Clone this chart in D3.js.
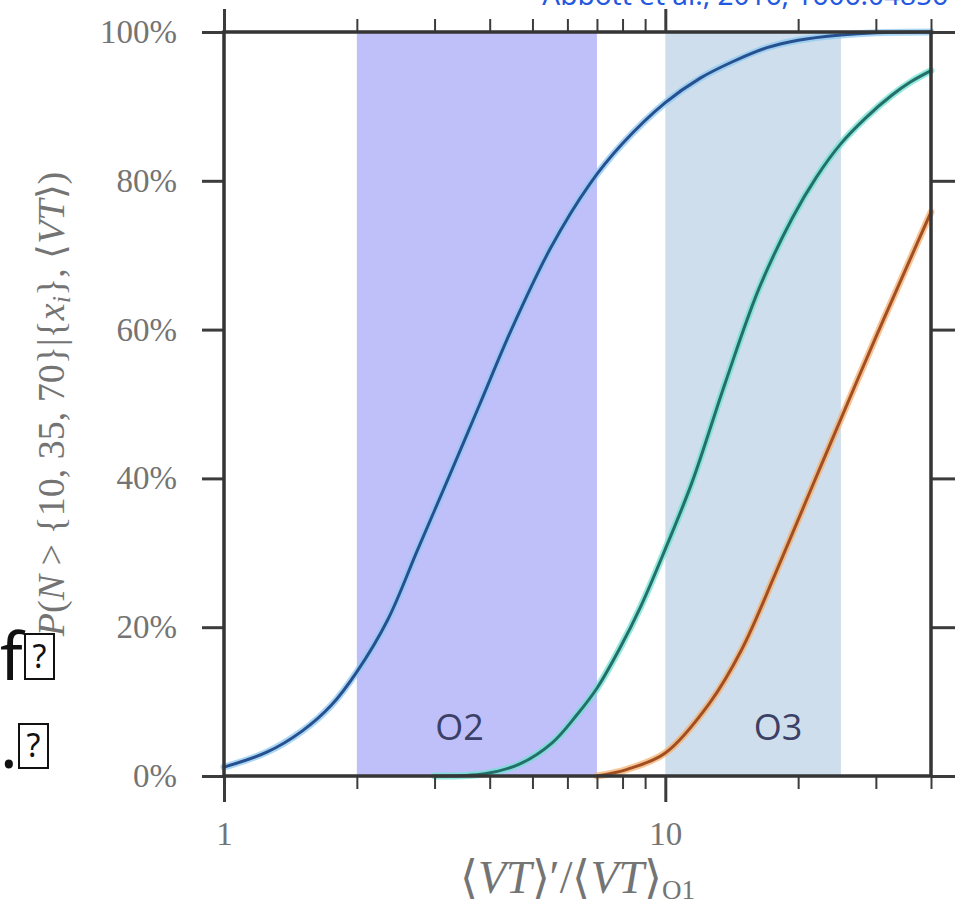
<!DOCTYPE html>
<html>
<head>
<meta charset="utf-8">
<script src="https://cdn.jsdelivr.net/npm/d3@7"></script>
<style>
  body { margin: 0; background: #fff; }
  svg { display: block; }
</style>
</head>
<body>
<svg id="chart" width="961" height="910"></svg>
<script>
// Observing runs (sensitive time-volume ratio ranges)
const runNames = ["O2", "O3"];
const runLo = [2, 10];
const runHi = [7, 25];
const runLabelX = [3.42, 18];

// P(N > 10 | data) against <VT>'/<VT>_O1
const n10X = [1, 1.25, 1.5, 1.75, 2, 2.35, 2.75, 3.25, 3.8, 4.48, 5.5, 6.73, 8, 10, 12, 14.2, 17, 20, 25, 30, 40];
const n10Y = [1.2, 3.2, 6, 9.5, 14, 21, 30.5, 40.5, 50, 60, 71, 79.5, 85, 90.5, 93.8, 96, 97.9, 98.9, 99.6, 99.9, 100];

// P(N > 35 | data)
const n35X = [3, 3.9, 4.67, 5.55, 6.3, 7, 7.86, 8.8, 10, 11.5, 13.7, 16.3, 19.4, 22, 25, 28.5, 32.6, 36, 40];
const n35Y = [0, 0.3, 1.6, 4.5, 8.2, 11.8, 17, 22.8, 30.5, 39.5, 53, 65.5, 75, 80.5, 85, 88.5, 91.5, 93.3, 94.8];

// P(N > 70 | data)
const n70X = [7, 8.2, 10, 12.6, 14.9, 17.7, 21.2, 25, 30, 35.6, 40];
const n70Y = [0, 0.9, 3.1, 9.8, 17, 27, 38, 48, 59, 69, 75.8];

// Axis ticks
const xMajor = [1, 10];
const xMajorLabels = ["1", "10"];
const xMinor = [2, 3, 4, 5, 6, 7, 8, 9, 20, 30, 40];
const yTicks = [0, 20, 40, 60, 80, 100];

const svg = d3.select("#chart");
const plot = { left: 224, right: 931, top: 32, bottom: 776 };

const x = d3.scaleLog().domain([1, 40]).range([plot.left, plot.right]);
const y = d3.scaleLinear().domain([0, 100]).range([plot.bottom, plot.top]);

const serif = "'Liberation Serif', 'Times New Roman', serif";
const tickColor = "#3c3c3c";
const labelColor = "#747474";

// Shaded run bands
const bandFill = ["#bfbff9", "#cfdeec"];
svg.append("g").selectAll("rect")
  .data(runNames)
  .join("rect")
  .attr("x", (d, i) => x(runLo[i]))
  .attr("width", (d, i) => x(runHi[i]) - x(runLo[i]))
  .attr("y", y(100))
  .attr("height", y(0) - y(100))
  .attr("fill", (d, i) => bandFill[i]);

svg.append("g").selectAll("text")
  .data(runNames)
  .join("text")
  .attr("x", (d, i) => x(runLabelX[i]))
  .attr("y", y(4.8))
  .attr("text-anchor", "middle")
  .attr("font-family", "'Open Sans', 'Noto Sans', sans-serif")
  .attr("font-size", 36)
  .attr("fill", "#3b4066")
  .text(d => d);

// Probability curves
const series = [
  { xs: n10X, ys: n10Y, halo: "#8fcaf2", core: "#26508f" },
  { xs: n35X, ys: n35Y, halo: "#72e2d2", core: "#23706a" },
  { xs: n70X, ys: n70Y, halo: "#f6b070", core: "#a14f22" }
];
const line = d3.line()
  .x(d => x(d[0]))
  .y(d => y(d[1]))
  .curve(d3.curveCatmullRom.alpha(0.5));

const curves = svg.append("g");
series.forEach(s => {
  const pts = s.xs.map((v, i) => [v, s.ys[i]]);
  curves.append("path").datum(pts)
    .attr("d", line).attr("fill", "none")
    .attr("stroke", s.halo).attr("stroke-width", 7).attr("stroke-opacity", 0.75)
    .attr("stroke-linecap", "round");
  curves.append("path").datum(pts)
    .attr("d", line).attr("fill", "none")
    .attr("stroke", s.core).attr("stroke-width", 3)
    .attr("stroke-linecap", "round");
});

// Axes with outward ticks on all four sides
function styleAxis(g, width) {
  g.select(".domain").remove();
  g.selectAll(".tick line").attr("stroke", tickColor).attr("stroke-width", width);
  g.selectAll(".tick text")
    .attr("font-family", serif)
    .attr("font-size", 33)
    .attr("fill", labelColor);
}

svg.append("g")
  .attr("transform", `translate(${plot.left},0)`)
  .call(d3.axisLeft(y).tickValues(yTicks).tickSize(22).tickPadding(25).tickFormat(d => d + "%"))
  .call(g => styleAxis(g, 3));

svg.append("g")
  .attr("transform", `translate(${plot.right},0)`)
  .call(d3.axisRight(y).tickValues(yTicks).tickSize(24).tickFormat(""))
  .call(g => styleAxis(g, 3));

svg.append("g")
  .attr("transform", `translate(0,${plot.bottom})`)
  .call(d3.axisBottom(x).tickValues(xMajor).tickSize(26).tickPadding(20)
    .tickFormat((d, i) => xMajorLabels[i]))
  .call(g => styleAxis(g, 3));

svg.append("g")
  .attr("transform", `translate(0,${plot.bottom})`)
  .call(d3.axisBottom(x).tickValues(xMinor).tickSize(13).tickFormat(""))
  .call(g => styleAxis(g, 2));

svg.append("g")
  .attr("transform", `translate(0,${plot.top})`)
  .call(d3.axisTop(x).tickValues(xMajor).tickSize(23).tickFormat(""))
  .call(g => styleAxis(g, 3));

svg.append("g")
  .attr("transform", `translate(0,${plot.top})`)
  .call(d3.axisTop(x).tickValues(xMinor).tickSize(13).tickFormat(""))
  .call(g => styleAxis(g, 2));

// Frame
svg.append("rect")
  .attr("x", plot.left).attr("y", plot.top)
  .attr("width", plot.right - plot.left).attr("height", plot.bottom - plot.top)
  .attr("fill", "none").attr("stroke", "#353535").attr("stroke-width", 3.5);

// Axis titles
const xt = svg.append("text")
  .attr("x", (plot.left + plot.right) / 2)
  .attr("y", 893)
  .attr("text-anchor", "middle")
  .attr("font-family", serif)
  .attr("font-size", 46)
  .attr("fill", labelColor);
xt.append("tspan").text("⟨");
xt.append("tspan").attr("font-style", "italic").text("VT");
xt.append("tspan").text("⟩′/⟨");
xt.append("tspan").attr("font-style", "italic").text("VT");
xt.append("tspan").text("⟩");
xt.append("tspan").attr("font-size", 27).attr("dy", 6).text("O1");

const yt = svg.append("text")
  .attr("transform", `translate(64,${(plot.top + plot.bottom) / 2}) rotate(-90)`)
  .attr("text-anchor", "middle")
  .attr("font-family", serif)
  .attr("font-size", 38)
  .attr("fill", labelColor);
yt.append("tspan").attr("font-style", "italic").text("P");
yt.append("tspan").text("(");
yt.append("tspan").attr("font-style", "italic").text("N");
yt.append("tspan").text(" > {10, 35, 70}|{");
yt.append("tspan").attr("font-style", "italic").text("x");
yt.append("tspan").attr("font-style", "italic").attr("font-size", 26).attr("dy", 6).text("i");
yt.append("tspan").attr("dy", -6).text("}, ⟨");
yt.append("tspan").attr("font-style", "italic").text("VT");
yt.append("tspan").text("⟩)");

// Source note along the top edge
svg.append("text")
  .attr("x", 948).attr("y", 5)
  .attr("text-anchor", "end")
  .attr("font-family", "'Noto Sans', sans-serif")
  .attr("font-size", 28)
  .attr("fill", "#2458e0")
  .text("Abbott et al., 2016, 1606.04856");

// Fragments of page text at the left margin
const frag = svg.append("g").attr("font-family", "'Noto Sans', sans-serif").attr("fill", "#111");
frag.append("text").attr("x", 0).attr("y", 680).attr("font-size", 66).text("f");
frag.append("rect").attr("x", 25).attr("y", 634).attr("width", 29).attr("height", 45)
  .attr("fill", "none").attr("stroke", "#111").attr("stroke-width", 2);
frag.append("text").attr("x", 39.5).attr("y", 668).attr("text-anchor", "middle").attr("font-size", 32).text("?");
frag.append("text").attr("x", 0).attr("y", 768).attr("font-size", 66).text(".");
frag.append("rect").attr("x", 19).attr("y", 724).attr("width", 29).attr("height", 44)
  .attr("fill", "none").attr("stroke", "#111").attr("stroke-width", 2);
frag.append("text").attr("x", 33.5).attr("y", 757).attr("text-anchor", "middle").attr("font-size", 32).text("?");
</script>
</body>
</html>
